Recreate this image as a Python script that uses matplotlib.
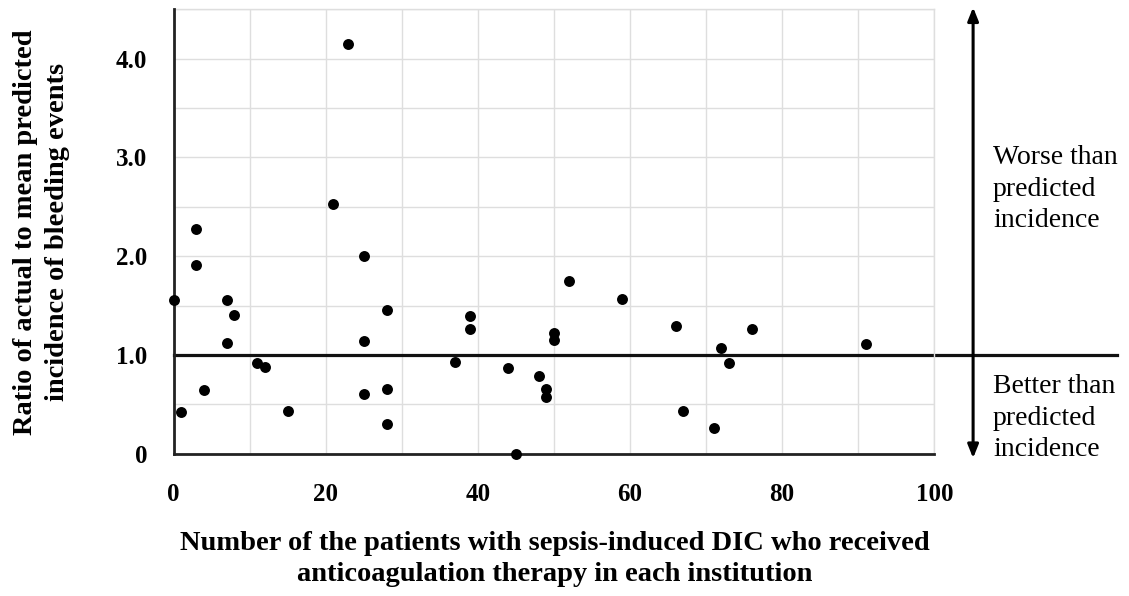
import matplotlib
matplotlib.use("Agg")
import matplotlib.pyplot as plt
import numpy as np

# Data: number of patients per institution vs ratio actual/predicted bleeding
patients = [0, 1, 3, 3, 4, 7, 7, 8, 11, 12, 15, 21, 23, 25, 25, 25, 28, 28, 28,
            37, 39, 39, 44, 45, 48, 49, 49, 50, 50, 52, 59, 66, 67, 71, 72, 73, 76, 91]
ratio = [1.56, 0.42, 2.28, 1.91, 0.65, 1.56, 1.12, 1.40, 0.92, 0.88, 0.43, 2.53, 4.15,
         2.00, 1.14, 0.60, 1.46, 0.66, 0.30,
         0.93, 1.39, 1.26, 0.87, 0.00, 0.79, 0.66, 0.57, 1.22, 1.15, 1.75, 1.57, 1.29,
         0.43, 0.26, 1.07, 0.92, 1.26, 1.11]

xticks = [0, 20, 40, 60, 80, 100]
yticks = [0, 1, 2, 3, 4]
ytick_labels = ["0", "1.0", "2.0", "3.0", "4.0"]

xlabel = "Number of the patients with sepsis-induced DIC who received\nanticoagulation therapy in each institution"
ylabel = "Ratio of actual to mean predicted\nincidence of bleeding events"
worse_text = "Worse than\npredicted\nincidence"
better_text = "Better than\npredicted\nincidence"

serif = ["Liberation Serif", "DejaVu Serif"]

fig = plt.figure(figsize=(11.29, 5.96), dpi=100)
ax = fig.add_axes([173.5 / 1129, 1 - 453.7 / 596, (934.3 - 173.5) / 1129, (453.7 - 9.3) / 596])

ax.set_xlim(0, 100)
ax.set_ylim(0, 4.5)
ax.set_xticks(xticks)
ax.set_xticks(np.arange(0, 101, 10), minor=True)
ax.set_yticks(yticks)
ax.set_yticks(np.arange(0, 4.51, 0.5), minor=True)
ax.set_yticklabels(ytick_labels)
ax.grid(which="both", color="#dedede", linewidth=1.0)
ax.set_axisbelow(True)
ax.tick_params(which="both", length=0)
ax.tick_params(axis="x", pad=21)
ax.tick_params(axis="y", pad=19)
for lab in ax.get_xticklabels() + ax.get_yticklabels():
    lab.set_fontfamily(serif)
    lab.set_fontweight("bold")
    lab.set_fontsize(18)

for s in ["top", "right"]:
    ax.spines[s].set_color("#dedede")
    ax.spines[s].set_linewidth(1.0)
for s in ["left", "bottom"]:
    ax.spines[s].set_color("#222222")
    ax.spines[s].set_linewidth(2.0)
    ax.spines[s].set_zorder(3)

# Reference line at ratio 1.0 extending beyond the axes
ax.plot([0, 1.24], [1.0, 1.0], color="#111111", linewidth=2.3,
        transform=ax.get_yaxis_transform(), clip_on=False, zorder=2)

ax.scatter(patients, ratio, s=62, color="black", zorder=4, clip_on=False, linewidths=0)

# double-headed arrow
arrow_x = 1.051
ax.annotate("", xy=(arrow_x, 4.52), xytext=(arrow_x, -0.045),
            xycoords=ax.get_yaxis_transform(), textcoords=ax.get_yaxis_transform(),
            arrowprops=dict(arrowstyle="<|-|>,head_length=0.5,head_width=0.2", color="black", lw=2.2,
                            mutation_scale=16, shrinkA=0, shrinkB=0),
            annotation_clip=False)

ax.text(1.077, 2.68, worse_text, transform=ax.get_yaxis_transform(), fontsize=20,
        family=serif, va="center", ha="left", linespacing=1.35)
ax.text(1.077, 0.36, better_text, transform=ax.get_yaxis_transform(), fontsize=20,
        family=serif, va="center", ha="left", linespacing=1.35)

fig.text(555 / 1129, 1 - 559 / 596, xlabel, fontsize=20.5, family=serif, fontweight="bold",
         ha="center", va="center", linespacing=1.35)
fig.text(41.5 / 1129, 1 - 232 / 596, ylabel, fontsize=20.5, family=serif, fontweight="bold",
         ha="center", va="center", rotation=90, linespacing=1.35)

fig.savefig("out.png", dpi=100)
